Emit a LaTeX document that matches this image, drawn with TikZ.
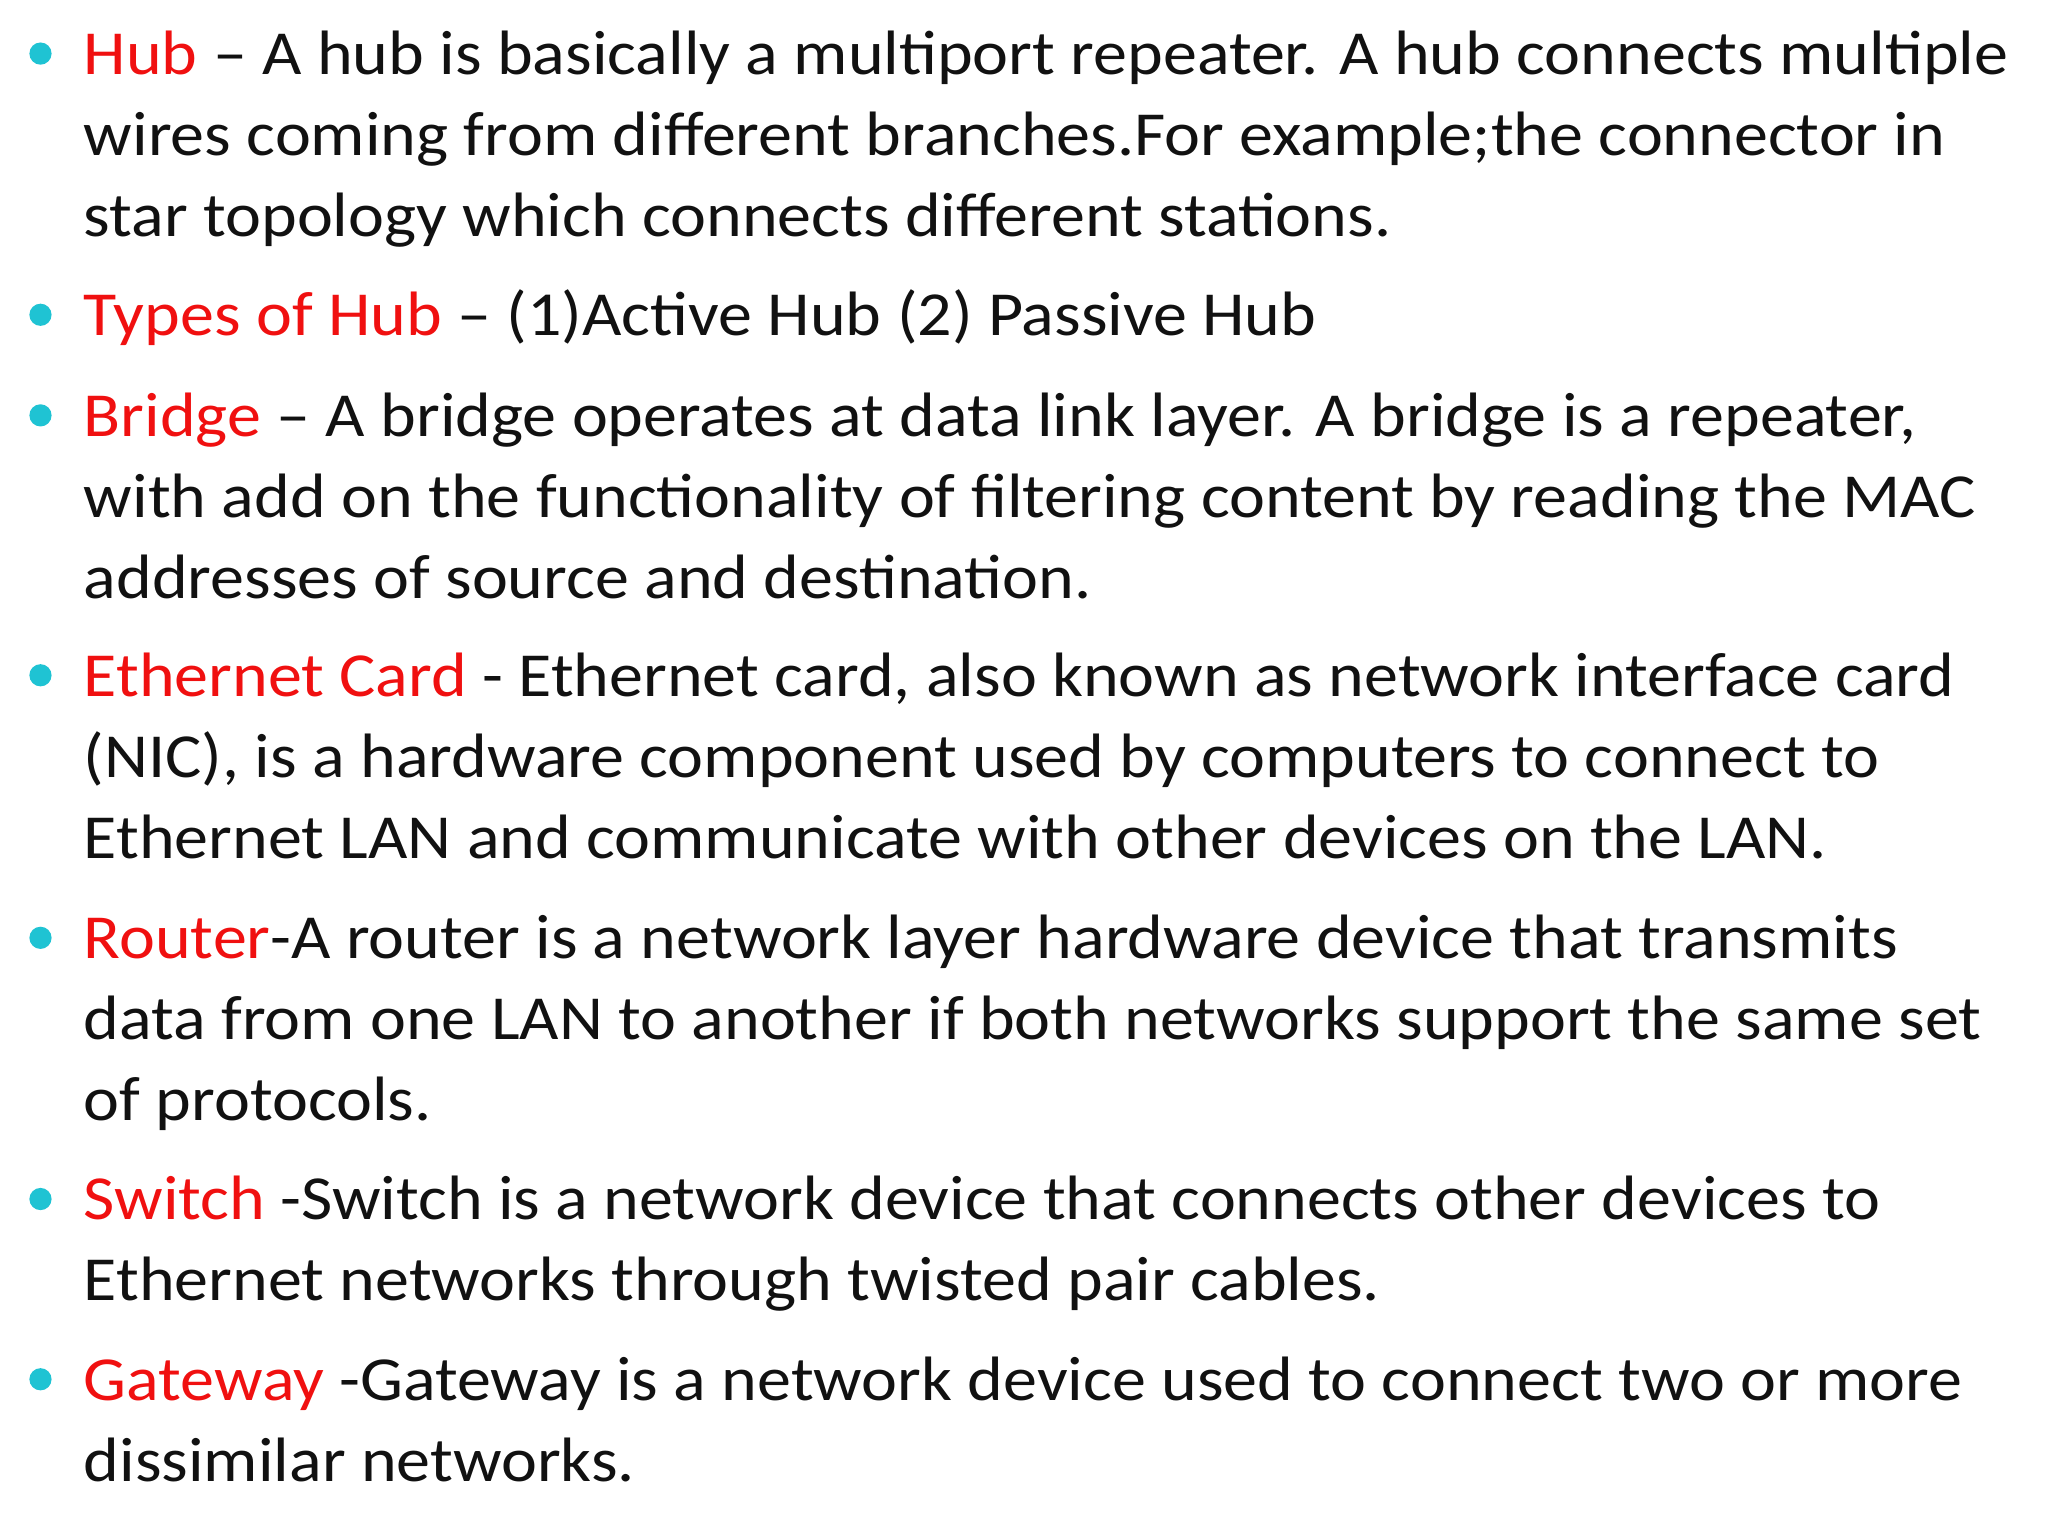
\documentclass[tikz,border=0pt]{standalone}
\usepackage{fontspec}
\setmainfont[FakeStretch=1.085]{Carlito}
\definecolor{bul}{HTML}{1FC3D3}
\definecolor{hl}{HTML}{F01010}
\definecolor{tx}{HTML}{111111}
\begin{document}
\begin{tikzpicture}[x=1pt,y=1pt,
  ln/.style={anchor=base west,inner sep=0pt,font=\fontsize{48}{56}\selectfont,text=tx},
  bdot/.style={circle,fill=bul,inner sep=0pt,minimum size=17pt}]
\useasboundingbox (0,0) rectangle (1568,-1176);
\fill[white] (0,0) rectangle (1568,-1176);
\def\L#1#2#3{\node[ln] (#1) at (64,-#2) {#3};}
\def\B#1#2{\node[bdot] (#1) at (31,-#2) {};}
\B{b1}{41}
\L{l1}{57}{\textcolor{hl}{Hub} – A hub is basically a multiport repeater. A hub connects multiple}
\L{l2}{119}{wires coming from different branches.For example;the connector in}
\L{l3}{181}{star topology which connects different stations.}
\B{b2}{241}
\L{l4}{257}{\textcolor{hl}{Types of Hub} – (1)Active Hub (2) Passive Hub}
\B{b3}{318}
\L{l5}{334}{\textcolor{hl}{Bridge} – A bridge operates at data link layer. A bridge is a repeater,}
\L{l6}{396}{with add on the functionality of filtering content by reading the MAC}
\L{l7}{458}{addresses of source and destination.}
\B{b4}{517}
\L{l8}{533}{\textcolor{hl}{Ethernet Card} - Ethernet card, also known as network interface card}
\L{l9}{595}{(NIC), is a hardware component used by computers to connect to}
\L{l10}{657}{Ethernet LAN and communicate with other devices on the LAN.}
\B{b5}{718}
\L{l11}{734}{\textcolor{hl}{Router}-A router is a network layer hardware device that transmits}
\L{l12}{796}{data from one LAN to another if both networks support the same set}
\L{l13}{858}{of protocols.}
\B{b6}{918}
\L{l14}{934}{\textcolor{hl}{Switch} -Switch is a network device that connects other devices to}
\L{l15}{996}{Ethernet networks through twisted pair cables.}
\B{b7}{1056}
\L{l16}{1072}{\textcolor{hl}{Gateway} -Gateway is a network device used to connect two or more}
\L{l17}{1134}{dissimilar networks.}
\end{tikzpicture}
\end{document}
